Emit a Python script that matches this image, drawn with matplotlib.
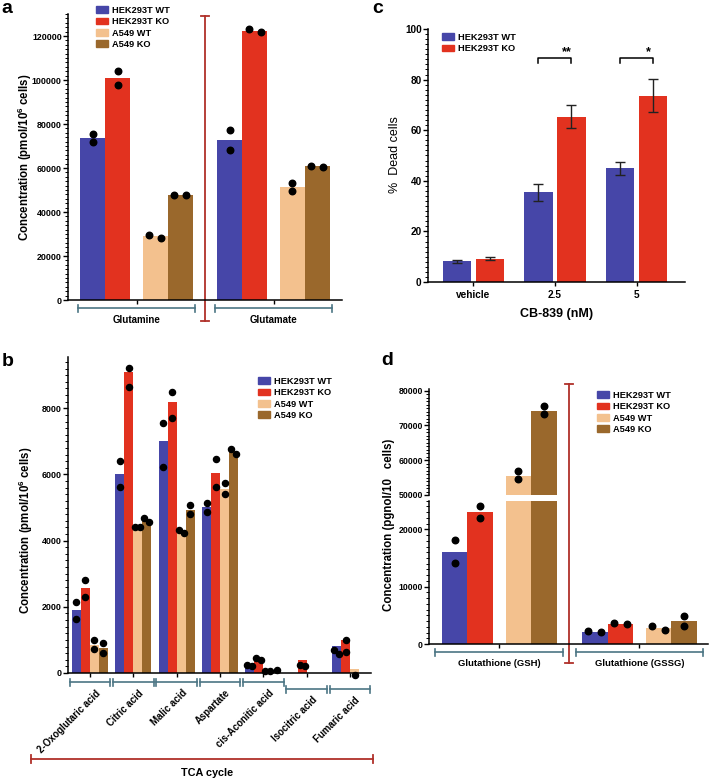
import matplotlib
matplotlib.use("Agg")
import matplotlib.pyplot as plt
from matplotlib.patches import Patch
from matplotlib.lines import Line2D
from matplotlib.ticker import MultipleLocator
import numpy as np

plt.rcParams["font.family"] = ["Liberation Sans", "DejaVu Sans"]
plt.rcParams["font.weight"] = "bold"
plt.rcParams["axes.labelweight"] = "bold"
plt.rcParams["axes.linewidth"] = 1.1
plt.rcParams["mathtext.fontset"] = "custom"
plt.rcParams["mathtext.rm"] = "Liberation Sans:bold"
plt.rcParams["mathtext.bf"] = "Liberation Sans:bold"

W, H = 709, 779

series = ["HEK293T WT", "HEK293T KO", "A549 WT", "A549 KO"]
colors = ["#4646a8", "#e2321f", "#f3c18e", "#9a682c"]
BRACKET = "#4b7584"
DIVIDER = "#b0302a"

# panel a - amino acids
amino_names = ["Glutamine", "Glutamate"]
gln_mean = [73700, 100900, 29000, 47800]
glu_mean = [72700, 122400, 51300, 60700]
gln_pts = [[75500, 71800], [104200, 97700], [29700, 28400], [47900, 47800]]
glu_pts = [[77500, 68300], [123300, 121700], [53100, 49600], [61100, 60500]]

# panel b - TCA cycle
tca_names = ["2-Oxoglutaric acid", "Citric acid", "Malic acid", "Aspartate",
             "cis-Aconitic acid", "Isocitric acid", "Fumaric acid"]
tca_hek_wt = [1900, 6000, 7000, 5010, 210, 0, 830]
tca_hek_ko = [2560, 9110, 8180, 6030, 420, 400, 990]
tca_a549_wt = [860, 4400, 4280, 5570, 80, 0, 130]
tca_a549_ko = [760, 4600, 4930, 6700, 100, 0, 0]
tca_hek_wt_pts = [[2160, 1620], [6400, 5610], [7550, 6230], [5130, 4880], [230, 200], [], [690, 580]]
tca_hek_ko_pts = [[2820, 2300], [9210, 8650], [8480, 7700], [6460, 5610], [460, 380], [230, 200], [990, 630]]
tca_a549_wt_pts = [[990, 730], [4400, 4400], [4320, 4230], [5730, 5420], [70, 70], [], [-50]]
tca_a549_ko_pts = [[910, 600], [4680, 4550], [5080, 4800], [6780, 6630], [100], [], []]

# panel c - cell death
doses = ["vehicle", "2.5", "5"]
wt_dead = [8.2, 35.4, 44.9]
wt_dead_err = [0.5, 3.3, 2.5]
ko_dead = [9.2, 65.4, 73.7]
ko_dead_err = [0.7, 4.7, 6.7]
sig_marks = ["", "**", "*"]

# panel d - glutathione
gsh_names = ["Glutathione (GSH)", "Glutathione (GSSG)"]
gsh_mean = [16100, 23000, 55600, 74300]
gssg_mean = [2150, 3490, 2790, 4040]
gsh_pts = [[18100, 14100], [24000, 22000], [56800, 54600], [75500, 73300]]
gssg_pts = [[2330, 2090], [3660, 3430], [3200, 2440], [4900, 3150]]

fig = plt.figure(figsize=(W / 100, H / 100), dpi=100)


def panel_axes(x0, y0, x1, y1):
    return fig.add_axes([x0 / W, 1 - y1 / H, (x1 - x0) / W, (y1 - y0) / H])


def style_axis(ax, major, minor, size):
    ax.spines["top"].set_visible(False)
    ax.spines["right"].set_visible(False)
    ax.yaxis.set_major_locator(MultipleLocator(major))
    ax.yaxis.set_minor_locator(MultipleLocator(minor))
    ax.tick_params(axis="y", which="major", length=3.5, width=1, labelsize=size, pad=1)
    ax.tick_params(axis="y", which="minor", length=2, width=0.7)
    ax.tick_params(axis="x", length=3, width=1)


def axis_h(ax):
    return ax.get_position().height * H


def dot_xs(xc, pts, thr, spread):
    if len(pts) == 2 and abs(pts[0] - pts[1]) < thr:
        if pts[0] >= pts[1]:
            return [xc - spread, xc + spread]
        return [xc + spread, xc - spread]
    return [xc] * len(pts)


def draw_dots(ax, xc, pts, spread, ms=4.7):
    if not pts:
        return
    y0, y1 = ax.get_ylim()
    thr = 7 * (y1 - y0) / axis_h(ax)
    ax.plot(dot_xs(xc, pts, thr, spread), pts, "o", color="black", ms=ms,
            clip_on=False, zorder=4)


def bracket(ax, x0, x1, dy, color, cap=3.5, lw=1.2):
    tr = ax.get_xaxis_transform()
    h = axis_h(ax)
    y = -dy / h
    c = cap / h
    ax.plot([x0, x1], [y, y], color=color, lw=lw, transform=tr, clip_on=False)
    for xe in (x0, x1):
        ax.plot([xe, xe], [y - c, y + c], color=color, lw=lw, transform=tr, clip_on=False)


def divider(ax, x, top_px, bot_px, cap=4):
    tr = ax.get_xaxis_transform()
    h = axis_h(ax)
    pos = ax.get_position()
    base = (1 - pos.y0) * H
    yt = (base - top_px) / h
    yb = (base - bot_px) / h
    x0, x1 = ax.get_xlim()
    cw = cap * (x1 - x0) / (pos.width * W)
    ax.plot([x, x], [yb, yt], color=DIVIDER, lw=1.3, transform=tr, clip_on=False)
    for yy in (yt, yb):
        ax.plot([x - cw, x + cw], [yy, yy], color=DIVIDER, lw=1.3, transform=tr, clip_on=False)


def legend_at(x, y, labels, cols):
    handles = [Patch(color=c, label=l) for c, l in zip(cols, labels)]
    fig.legend(handles=handles, loc="upper left", bbox_to_anchor=(x / W, 1 - y / H),
               bbox_transform=fig.transFigure, frameon=False, fontsize=6.7,
               handlelength=1.25, handleheight=0.75, handletextpad=0.5,
               labelspacing=0.25, borderpad=0, borderaxespad=0)


conc_label = "Concentration (pmol/10$^{6}$ cells)"
offsets4 = np.array([0, 1, 2.5, 3.5])
step4 = 5.5

# ---------------- panel a ----------------
ax = panel_axes(68, 14, 342, 300)
ax.set_xlim(-1, 10)
ax.set_ylim(0, 130000)
style_axis(ax, 20000, 2000, 6.4)
for g, (means, pts) in enumerate(zip([gln_mean, glu_mean], [gln_pts, glu_pts])):
    xs = g * step4 + offsets4
    ax.bar(xs, means, width=1, color=colors, zorder=2)
    for xc, p in zip(xs, pts):
        draw_dots(ax, xc, p, 0.25)
centers = [g * step4 + 1.75 for g in range(2)]
ax.set_xticks(centers)
ax.set_xticklabels([])
for g, c in enumerate(centers):
    bracket(ax, c - 2.25 - 0.1, c + 2.25 + 0.1, 8, BRACKET)
    ax.text(c, -20 / axis_h(ax), amino_names[g], transform=ax.get_xaxis_transform(),
            ha="center", va="center", fontsize=7)
divider(ax, 4.5, 16, 321)
fig.text(25 / W, 1 - 157 / H, conc_label, rotation=90, ha="center", va="center", fontsize=8.3)
legend_at(96, 6, series, colors)

# ---------------- panel c ----------------
ax = panel_axes(428, 29, 685, 282)
ax.set_xlim(-0.558, 2.595)
ax.set_ylim(0, 100)
style_axis(ax, 20, 2, 7.2)
xc = np.arange(len(doses))
bw = 0.344
off = 0.2025
ax.bar(xc - off, wt_dead, width=bw, color=colors[0], zorder=2)
ax.bar(xc + off, ko_dead, width=bw, color=colors[1], zorder=2)
ax.errorbar(xc - off, wt_dead, yerr=wt_dead_err, fmt="none", ecolor="#222222",
            elinewidth=1, capsize=3.6, capthick=1, zorder=3)
ax.errorbar(xc + off, ko_dead, yerr=ko_dead_err, fmt="none", ecolor="#222222",
            elinewidth=1, capsize=3.6, capthick=1, zorder=3)
ax.set_xticks(xc)
ax.set_xticklabels(doses, fontsize=7.2)
ax.tick_params(axis="x", pad=2.5)
for i, m in enumerate(sig_marks):
    if not m:
        continue
    ax.plot([i - off, i - off, i + off, i + off], [86.7, 88.4, 88.4, 86.7],
            color="black", lw=1.1)
    ax.text(i + off - 0.06, 88.6, m, ha="center", va="bottom", fontsize=9)
ax.set_xlabel("CB-839 (nM)", fontsize=9, fontweight="bold", labelpad=6)
fig.text(395 / W, 1 - 155 / H, "%  Dead cells", rotation=90, ha="center", va="center",
         fontsize=9, fontweight="normal")
legend_at(442, 33, series[:2], colors[:2])

# ---------------- panel b ----------------
ax = panel_axes(68, 357, 371, 673)
step7 = 4.815
ax.set_xlim(-0.944, 32.72)
ax.set_ylim(0, 9550)
style_axis(ax, 2000, 200, 6.4)
tca_means = [tca_hek_wt, tca_hek_ko, tca_a549_wt, tca_a549_ko]
tca_pts = [tca_hek_wt_pts, tca_hek_ko_pts, tca_a549_wt_pts, tca_a549_ko_pts]
base = np.arange(len(tca_names)) * step7
for s, (means, pts) in enumerate(zip(tca_means, tca_pts)):
    ax.bar(base + s, means, width=1, color=colors[s], zorder=2)
    for x, p in zip(base + s, pts):
        draw_dots(ax, x, p, 0.27, ms=4.4)
ax.set_xticks(base + 1.5)
ax.set_xticklabels([])
drop = [0, 0, 0, 0, 0, 7, 7]
for g, c in enumerate(base + 1.5):
    bracket(ax, c - 2.0 - 0.25, c + 2.0 + 0.25, 9 + drop[g], BRACKET)
    ax.text(c + 0.55, -(15 + drop[g]) / axis_h(ax), tca_names[g],
            transform=ax.get_xaxis_transform(), rotation=45, rotation_mode="anchor",
            ha="right", va="top", fontsize=6.9)
fig.text(26 / W, 1 - 530 / H, conc_label, rotation=90, ha="center", va="center", fontsize=8.3)
legend_at(258, 377, series, colors)
# TCA cycle bracket
fig.add_artist(Line2D([31 / W, 373 / W], [1 - 759 / H] * 2, color=DIVIDER, lw=1.3))
for xe in (31, 373):
    fig.add_artist(Line2D([xe / W] * 2, [1 - 755 / H, 1 - 763 / H], color=DIVIDER, lw=1.3))
fig.text(207 / W, 1 - 773 / H, "TCA cycle", ha="center", va="center", fontsize=7.8)

# ---------------- panel d ----------------
ax_top = panel_axes(429, 389, 708, 495)
ax_bot = panel_axes(429, 500.7, 708, 644)
for a in (ax_top, ax_bot):
    a.set_xlim(-1, 9.94)
ax_top.set_ylim(50000, 80500)
ax_bot.set_ylim(0, 25000)
style_axis(ax_top, 10000, 1000, 6.3)
style_axis(ax_bot, 10000, 1000, 6.3)
ax_top.spines["bottom"].set_visible(False)
ax_top.tick_params(axis="x", bottom=False, labelbottom=False)
for g, (means, pts) in enumerate(zip([gsh_mean, gssg_mean], [gsh_pts, gssg_pts])):
    xs = g * step4 + offsets4
    for a in (ax_top, ax_bot):
        a.bar(xs, means, width=1, color=colors, zorder=2)
    for x, p in zip(xs, pts):
        hi = [v for v in p if v >= 50000]
        lo = [v for v in p if v < 50000]
        draw_dots(ax_top, x, hi, 0.25)
        draw_dots(ax_bot, x, lo, 0.25)
centers = [g * step4 + 1.75 for g in range(2)]
ax_bot.set_xticks(centers)
ax_bot.set_xticklabels([])
for g, c in enumerate(centers):
    bracket(ax_bot, c - 2.25 - 0.25, c + 2.25 + 0.25, 8, BRACKET)
    ax_bot.text(c, -19 / axis_h(ax_bot), gsh_names[g], transform=ax_bot.get_xaxis_transform(),
                ha="center", va="center", fontsize=6.8)
divider(ax_bot, 4.48, 384, 662.7)
fig.text(389 / W, 1 - 525 / H, "Concentration (pgnol/10   cells)", rotation=90,
         ha="center", va="center", fontsize=8.3)
legend_at(597, 391, series, colors)

# panel letters
for letter, x, y in [("a", 1, 13), ("c", 372, 13), ("b", 2, 366), ("d", 381, 365)]:
    fig.text(x / W, 1 - y / H, letter, fontsize=14, fontweight="bold", va="baseline")

fig.savefig("out.png", dpi=100)
